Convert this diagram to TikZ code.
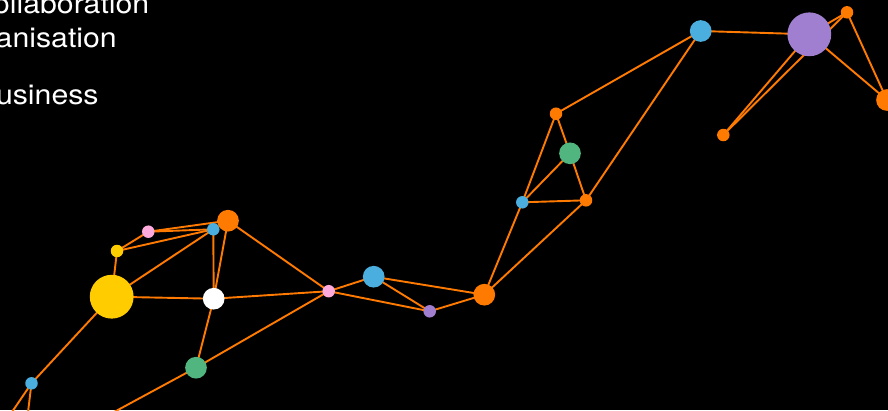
\documentclass[tikz,border=0pt]{standalone}
\usepackage{fontspec}
\setmainfont{TeX Gyre Heros}[FakeStretch=1.1]
\pgfdeclarelayer{bgfill}
\pgfdeclarelayer{background}
\pgfsetlayers{bgfill,background,main}
\definecolor{cOrange}{HTML}{FF7A00}
\definecolor{cYellow}{HTML}{FFCC00}
\definecolor{cBlue}{HTML}{4AAEDF}
\definecolor{cPink}{HTML}{FFAADD}
\definecolor{cGreen}{HTML}{50B57F}
\definecolor{cPurple}{HTML}{A07FD0}
\tikzset{
  dot/.style={circle, inner sep=0pt, draw=none},
  small/.style={dot, minimum size=12.5pt},
  mid/.style={dot, minimum size=21.7pt},
  big/.style={dot, minimum size=43.8pt},
  link/.style={draw=cOrange, line width=1.9pt},
  label/.style={anchor=base east, inner sep=0pt, text=white, font=\fontsize{27.5}{33}\selectfont}
}
\begin{document}
\begin{tikzpicture}[x=1pt,y=-1pt]
\useasboundingbox (0,0) rectangle (888,410);
\clip (0,0) rectangle (888,410);
\begin{pgfonlayer}{bgfill}
\fill[black] (0,0) rectangle (888,410);
\end{pgfonlayer}

% texts
\node[label] (t1) at (149.5,13.5) {Collaboration};
\node[label] (t2) at (117,47.8) {Organisation};
\node[label] (t3) at (98.8,104.3) {Business};

% nodes left cluster
\node[mid, fill=cOrange] (o1) at (228,220.7) {};
\node[small, fill=cBlue] (b1) at (213.3,229.3) {};
\node[small, fill=cPink] (p1) at (148.3,231.7) {};
\node[small, fill=cYellow] (y1) at (117,251) {};
\node[big, fill=cYellow] (Y) at (111.7,296.7) {};
\node[mid, fill=white] (w) at (213.7,298.7) {};
\node[small, fill=cPink] (p2) at (328.7,291.2) {};
\node[mid, fill=cGreen] (g1) at (196,367.7) {};
\node[small, fill=cBlue] (b2) at (31.5,383.3) {};
\coordinate (x1) at (-5,437);
\coordinate (x2) at (25,437);
\coordinate (x3) at (79,431);

% middle
\node[mid, fill=cBlue] (B) at (373.7,276.7) {};
\node[small, fill=cPurple] (u1) at (429.7,311.3) {};
\node[mid, fill=cOrange] (o2) at (484.3,294.7) {};
\node[small, fill=cBlue] (b3) at (522.3,202.3) {};
\node[small, fill=cOrange] (o3) at (556,113.7) {};
\node[mid, fill=cGreen] (g2) at (570,153.3) {};
\node[small, fill=cOrange] (o4) at (586,200.3) {};

% right
\node[mid, fill=cBlue] (b4) at (700.7,31) {};
\node[big, fill=cPurple] (U) at (809.3,34.3) {};
\node[small, fill=cOrange] (o5) at (847,12.3) {};
\node[mid, fill=cOrange] (o6) at (887,100) {};
\node[small, fill=cOrange] (o7) at (723.3,135) {};

\begin{pgfonlayer}{background}
\draw[link] (o1.center) -- (p1.center);
\draw[link] (p1.center) -- (b1.center);
\draw[link] (y1.center) -- (p1.center);
\draw[link] (y1.center) -- (b1.center);
\draw[link] (y1.center) -- (Y.center);
\draw[link] (Y.center) -- (b1.center);
\draw[link] (Y.center) -- (w.center);
\draw[link] (b1.center) -- (w.center);
\draw[link] (o1.center) -- (w.center);
\draw[link] (o1.center) -- (p2.center);
\draw[link] (w.center) -- (p2.center);
\draw[link] (w.center) -- (g1.center);
\draw[link] (g1.center) -- (p2.center);
\draw[link] (g1.center) -- (x3);
\draw[link] (Y.center) -- (b2.center);
\draw[link] (b2.center) -- (x1);
\draw[link] (b2.center) -- (x2);

\draw[link] (p2.center) -- (B.center);
\draw[link] (p2.center) -- (u1.center);
\draw[link] (B.center) -- (u1.center);
\draw[link] (B.center) -- (o2.center);
\draw[link] (u1.center) -- (o2.center);
\draw[link] (o2.center) -- (b3.center);
\draw[link] (o2.center) -- (o4.center);
\draw[link] (b3.center) -- (o3.center);
\draw[link] (b3.center) -- (g2.center);
\draw[link] (b3.center) -- (o4.center);
\draw[link] (o3.center) -- (g2.center);
\draw[link] (g2.center) -- (o4.center);
\draw[link] (o3.center) -- (b4.center);
\draw[link] (o4.center) -- (b4.center);

\draw[link] (b4.center) -- (U.center);
\draw[link] (U.center) -- (o5.center);
\draw[link] (o5.center) -- (o6.center);
\draw[link] (U.center) -- (o6.center);
\draw[link] (o7.center) -- (U.center);
\draw[link] (o7.center) -- (o5.center);
\end{pgfonlayer}
\end{tikzpicture}
\end{document}
